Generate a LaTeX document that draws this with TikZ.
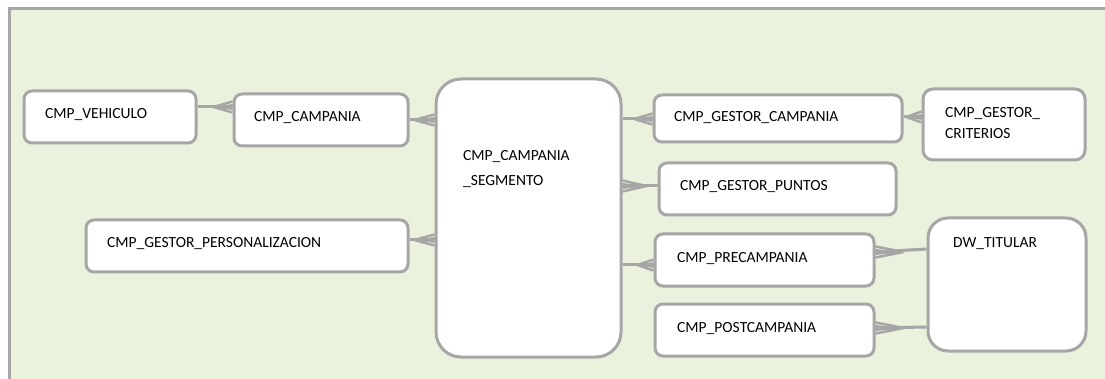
\documentclass[tikz,border=0pt]{standalone}
\usepackage{fontspec}
\setmainfont{Carlito}
\definecolor{linegray}{HTML}{A6A6A6}
\definecolor{panelgreen}{HTML}{EAF1DD}
\tikzset{
  box/.style={draw=linegray, line width=3pt, fill=white, rounded corners=8pt,
    inner sep=0pt, anchor=north west},
  lbl/.style={anchor=base west, inner sep=0pt, font=\fontsize{15.5}{21}\selectfont, align=left},
  link/.style={draw=linegray, line width=3pt},
  prong/.style={draw=linegray, line width=2.5pt},
  pics/crow/.style={code={
    \fill[linegray] (-#1,0) -- (0,-3) -- (0,3) -- cycle;
    \draw[prong] (-#1,0) -- (0,-5.5) (-#1,0) -- (0,5.5) (-#1,0) -- (0,0);
  }},
}
\begin{document}
\begin{tikzpicture}[x=1pt,y=-1pt]
\useasboundingbox (0,0) rectangle (1105,379);
% page and panel
\fill[white] (0,0) rectangle (1105,379);
\fill[panelgreen] (9,9) rectangle (1105,379);
\draw[linegray, line width=3pt] (9,379) -- (9,9) -- (1105,9);

% entities
\node[box, minimum width=172pt, minimum height=52pt] (veh) at (22.5,89.5) {};
\node[box, minimum width=174pt, minimum height=52pt] (camp) at (232.5,92.5) {};
\node[box, minimum width=185pt, minimum height=278pt, rounded corners=25pt] (seg) at (434.5,77.5) {};
\node[box, minimum width=322pt, minimum height=52pt] (pers) at (84.5,218.5) {};
\node[box, minimum width=248pt, minimum height=47pt] (gcamp) at (652.5,93.5) {};
\node[box, minimum width=162pt, minimum height=71pt, rounded corners=10pt] (crit) at (921.5,87.5) {};
\node[box, minimum width=237pt, minimum height=52pt] (puntos) at (657.5,161.5) {};
\node[box, minimum width=219pt, minimum height=52pt] (pre) at (653.5,232.5) {};
\node[box, minimum width=219pt, minimum height=52pt] (post) at (653.5,302.5) {};
\node[box, minimum width=158pt, minimum height=133pt, rounded corners=20pt] (dw) at (926.5,216.5) {};

% entity names (base anchor = baseline of the last line)
\node[lbl] (vehT) at (45,119) {CMP\_VEHICULO};
\node[lbl] (campT) at (254,122) {CMP\_CAMPANIA};
\node[lbl] (segT) at (463,186) {CMP\_CAMPANIA\\[4pt]\_SEGMENTO};
\node[lbl] (persT) at (107,248) {CMP\_GESTOR\_PERSONALIZACION};
\node[lbl] (gcampT) at (674,122) {CMP\_GESTOR\_CAMPANIA};
\node[lbl] (critT) at (945,139) {CMP\_GESTOR\_\\CRITERIOS};
\node[lbl] (puntosT) at (680,191) {CMP\_GESTOR\_PUNTOS};
\node[lbl] (preT) at (677,262) {CMP\_PRECAMPANIA};
\node[lbl] (postT) at (677,332) {CMP\_POSTCAMPANIA};
\node[lbl] (dwT) at (953,248) {DW\_TITULAR};

% relationships (crow's foot on the many side)
\draw[link] (veh.east |- 0,107) -- (camp.west |- 0,107);
\pic at (camp.west |- 0,107) {crow=19};

\draw[link] (camp.east |- 0,120) -- (seg.west |- 0,120);
\pic at (seg.west |- 0,120) {crow=20};

\draw[link] (pers.east |- 0,240) -- (seg.west |- 0,240);
\pic at (seg.west |- 0,240) {crow=20};

\draw[link] (seg.east |- 0,119) -- (gcamp.west |- 0,119);
\pic at (gcamp.west |- 0,119) {crow=18};

\draw[link] (seg.east |- 0,186) -- (puntos.west |- 0,186);
\pic[rotate=180] at (seg.east |- 0,186) {crow=24};

\draw[link] (seg.east |- 0,265) -- (pre.west |- 0,265);
\pic at (pre.west |- 0,265) {crow=16};

\draw[link] (gcamp.east |- 0,117) -- (crit.west |- 0,117);
\pic at (crit.west |- 0,117) {crow=15};

\draw[link] (pre.east |- 0,252) -- (dw.west |- 0,249);
\pic[rotate=180] at (pre.east |- 0,252) {crow=28};

\draw[link] (post.east |- 0,328) -- (dw.west |- 0,327);
\pic[rotate=180] at (post.east |- 0,328) {crow=28};
\end{tikzpicture}
\end{document}
